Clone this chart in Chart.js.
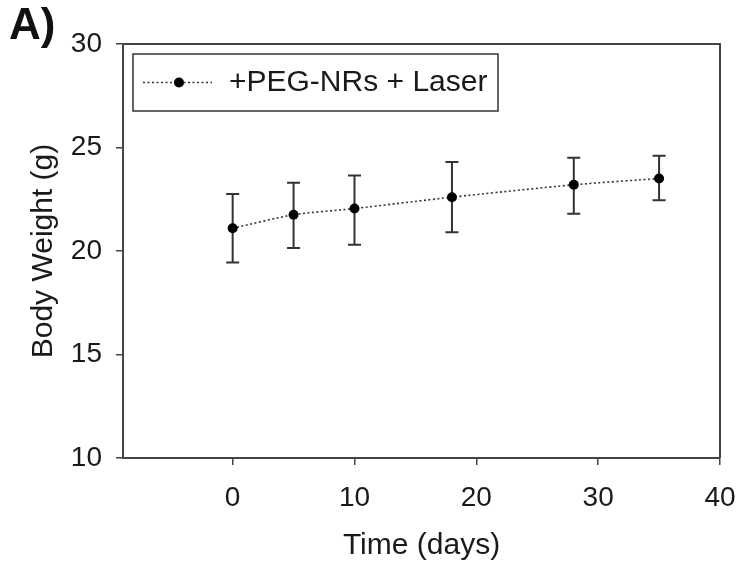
<!DOCTYPE html>
<html>
<head>
<meta charset="utf-8">
<script src="https://cdn.jsdelivr.net/npm/chart.js@4.4.0/dist/chart.umd.min.js"></script>
<style>
  html, body { margin: 0; padding: 0; background: #fff; }
  #wrap { width: 738px; height: 564px; position: relative; }
</style>
</head>
<body>
<div id="wrap"><canvas id="c" width="738" height="564"></canvas></div>
<script>
// ---- data ----
const days = [0, 5, 10, 18, 28, 35];
const weightMean = [21.1, 21.75, 22.05, 22.6, 23.2, 23.5];
const weightUpper = [22.75, 23.3, 23.65, 24.3, 24.5, 24.6];
const weightLower = [19.45, 20.15, 20.3, 20.9, 21.8, 22.45];
const seriesLabel = '+PEG-NRs + Laser';
const xTicks = [0, 10, 20, 30, 40];
const yTicks = [10, 15, 20, 25, 30];
const xTitle = 'Time (days)';
const yTitle = 'Body Weight (g)';
const panelLabel = 'A)';

const FONT = '"Liberation Sans", Arial, sans-serif';
const INK = '#1a1a1a';
const AXIS = '#444';

const points = days.map((d, i) => ({ x: d, y: weightMean[i] }));

const errorBars = {
  id: 'errorBars',
  beforeDatasetsDraw(chart) {
    const { ctx, scales: { x, y } } = chart;
    ctx.save();
    ctx.strokeStyle = '#333';
    ctx.lineWidth = 2;
    const cap = 6.5;
    days.forEach((d, i) => {
      const px = x.getPixelForValue(d);
      const pu = y.getPixelForValue(weightUpper[i]);
      const pl = y.getPixelForValue(weightLower[i]);
      ctx.beginPath();
      ctx.moveTo(px, pu); ctx.lineTo(px, pl);
      ctx.moveTo(px - cap, pu); ctx.lineTo(px + cap, pu);
      ctx.moveTo(px - cap, pl); ctx.lineTo(px + cap, pl);
      ctx.stroke();
    });
    ctx.restore();
  }
};

const frameAndLegend = {
  id: 'frameAndLegend',
  afterDraw(chart) {
    const { ctx, chartArea: a } = chart;
    ctx.save();
    // top & right frame
    ctx.strokeStyle = AXIS;
    ctx.lineWidth = 2;
    ctx.beginPath();
    ctx.moveTo(a.left, a.top); ctx.lineTo(a.right, a.top); ctx.lineTo(a.right, a.bottom);
    ctx.stroke();
    // legend box
    ctx.lineWidth = 1.5;
    ctx.strokeStyle = '#333';
    ctx.strokeRect(133, 54, 365, 57);
    // legend sample line
    ctx.setLineDash([2, 2.5]);
    ctx.lineWidth = 1.5;
    ctx.beginPath();
    ctx.moveTo(143, 82.5); ctx.lineTo(212, 82.5);
    ctx.stroke();
    ctx.setLineDash([]);
    ctx.fillStyle = '#000';
    ctx.beginPath();
    ctx.arc(179, 82.5, 5, 0, Math.PI * 2);
    ctx.fill();
    // legend text
    ctx.fillStyle = INK;
    ctx.font = '30px ' + FONT;
    ctx.textBaseline = 'middle';
    ctx.textAlign = 'left';
    ctx.fillText(chart.data.datasets[0].label, 229, 83);
    // panel label
    ctx.font = 'bold 44px ' + FONT;
    ctx.textBaseline = 'alphabetic';
    ctx.fillStyle = '#111';
    ctx.fillText(panelLabel, 9, 39);
    ctx.restore();
  }
};

new Chart(document.getElementById('c'), {
  type: 'scatter',
  data: {
    datasets: [{
      label: seriesLabel,
      data: points,
      showLine: true,
      borderColor: '#333',
      borderWidth: 1.6,
      borderDash: [2, 2.5],
      tension: 0.25,
      pointRadius: 5,
      pointBackgroundColor: '#000',
      pointBorderColor: '#000',
      pointBorderWidth: 0,
      pointHoverRadius: 5
    }]
  },
  options: {
    responsive: false,
    animation: false,
    events: [],
    layout: { padding: { left: 0, top: 44, right: 18, bottom: 0 } },
    plugins: { legend: { display: false }, tooltip: { enabled: false } },
    scales: {
      x: {
        type: 'linear',
        min: -9,
        max: 40,
        afterBuildTicks(scale) { scale.ticks = xTicks.map(v => ({ value: v })); },
        afterFit(scale) { scale.height = 106; scale.paddingLeft = 0; scale.paddingRight = 0; },
        ticks: { color: INK, font: { family: FONT, size: 28 }, padding: 16 },
        grid: { display: true, drawOnChartArea: false, drawTicks: true, tickLength: 7, color: AXIS, lineWidth: 1.5 },
        border: { display: true, color: AXIS, width: 2 },
        title: { display: true, text: xTitle, color: INK, font: { family: FONT, size: 30 }, padding: { top: 0, bottom: 0 } }
      },
      y: {
        type: 'linear',
        min: 10,
        max: 30,
        afterBuildTicks(scale) { scale.ticks = yTicks.map(v => ({ value: v })); },
        afterFit(scale) { scale.width = 123; scale.paddingTop = 0; scale.paddingBottom = 0; },
        ticks: { color: INK, font: { family: FONT, size: 28 }, padding: 14 },
        grid: { display: true, drawOnChartArea: false, drawTicks: true, tickLength: 7, color: AXIS, lineWidth: 1.5 },
        border: { display: true, color: AXIS, width: 2 },
        title: { display: true, text: yTitle, color: INK, font: { family: FONT, size: 30 }, padding: { top: 26, bottom: 0 } }
      }
    }
  },
  plugins: [errorBars, frameAndLegend]
});
</script>
</body>
</html>
